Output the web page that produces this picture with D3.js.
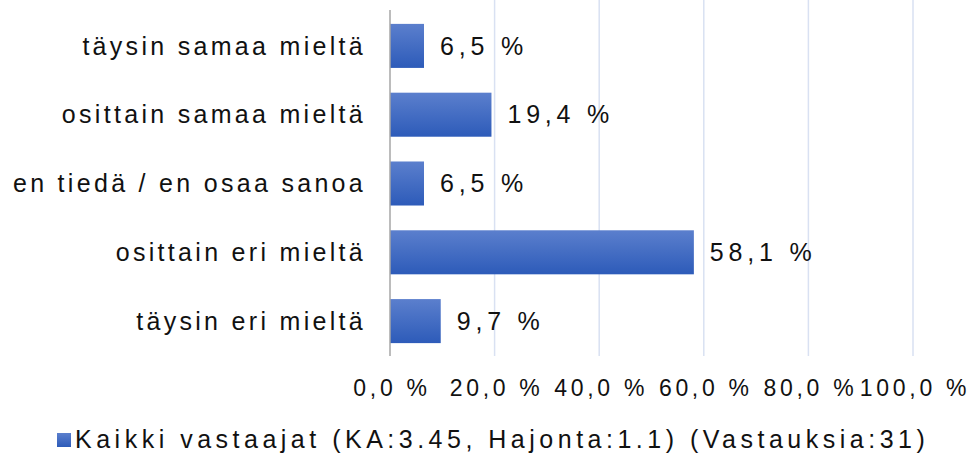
<!DOCTYPE html>
<html>
<head>
<meta charset="utf-8">
<script src="https://cdn.jsdelivr.net/npm/d3@7"></script>
<style>
  body { margin: 0; background: #fff; }
  text { font-family: "Liberation Sans", Arial, sans-serif; fill: #111; }
</style>
</head>
<body>
<div class="vis"></div>
<script>
// chart data
const categories = ["täysin samaa mieltä", "osittain samaa mieltä", "en tiedä / en osaa sanoa", "osittain eri mieltä", "täysin eri mieltä"];
const values = [6.5, 19.4, 6.5, 58.1, 9.7];
const ticks = [0, 20, 40, 60, 80, 100];
const seriesName = "Kaikki vastaajat (KA:3.45, Hajonta:1.1) (Vastauksia:31)";

const W = 970, H = 456;
const fmt = v => v.toFixed(1).replace(".", ",") + " %";

const svg = d3.select(".vis").append("svg")
    .attr("width", W).attr("height", H);

const defs = svg.append("defs");
const grad = defs.append("linearGradient").attr("id", "barGrad")
    .attr("x1", 0).attr("y1", 0).attr("x2", 0).attr("y2", 1);
grad.append("stop").attr("offset", "0%").attr("stop-color", "#5b7fcd");
grad.append("stop").attr("offset", "100%").attr("stop-color", "#2d5bb9");

const x = d3.scaleLinear().domain([0, 100]).range([390, 913]);
const y = d3.scaleBand().domain(categories).range([11.5, 355.5]).paddingInner(0.36).paddingOuter(0.18);

// gridlines
svg.append("g").selectAll("line")
    .data(ticks.slice(1))
    .join("line")
    .attr("x1", d => x(d)).attr("x2", d => x(d))
    .attr("y1", 0).attr("y2", 356)
    .attr("stroke", "#d9e1f2").attr("stroke-width", 1.5);

// bars
svg.append("g").selectAll("rect")
    .data(values)
    .join("rect")
    .attr("x", x(0))
    .attr("y", (d, i) => y(categories[i]))
    .attr("width", d => x(d) - x(0))
    .attr("height", y.bandwidth())
    .attr("fill", "url(#barGrad)");

// axis line
svg.append("line")
    .attr("x1", x(0)).attr("x2", x(0))
    .attr("y1", 10).attr("y2", 356)
    .attr("stroke", "#a6a6a6").attr("stroke-width", 1.5);

// category labels
svg.append("g").selectAll("text")
    .data(categories)
    .join("text")
    .attr("x", 366)
    .attr("y", d => y(d) + y.bandwidth() / 2)
    .attr("dy", "0.35em")
    .attr("text-anchor", "end")
    .style("font-size", "25px")
    .style("letter-spacing", "3.3px")
    .text(d => d);

// value labels
svg.append("g").selectAll("text")
    .data(values)
    .join("text")
    .attr("x", d => x(d) + 16)
    .attr("y", (d, i) => y(categories[i]) + y.bandwidth() / 2)
    .attr("dy", "0.35em")
    .style("font-size", "25px")
    .style("letter-spacing", "4.8px")
    .text(d => fmt(d));

// x tick labels
svg.append("g").selectAll("text")
    .data(ticks)
    .join("text")
    .attr("x", d => x(d) + 2)
    .attr("y", 396)
    .attr("text-anchor", "middle")
    .style("font-size", "23px")
    .style("letter-spacing", "3.7px")
    .text(d => fmt(d));

// legend
const legend = svg.append("g");
legend.append("rect")
    .attr("x", 57).attr("y", 433).attr("width", 14).attr("height", 14)
    .attr("fill", "url(#barGrad)");
legend.append("text")
    .attr("x", 75).attr("y", 448)
    .style("font-size", "25px")
    .style("letter-spacing", "4.5px")
    .text(seriesName);
</script>
</body>
</html>
